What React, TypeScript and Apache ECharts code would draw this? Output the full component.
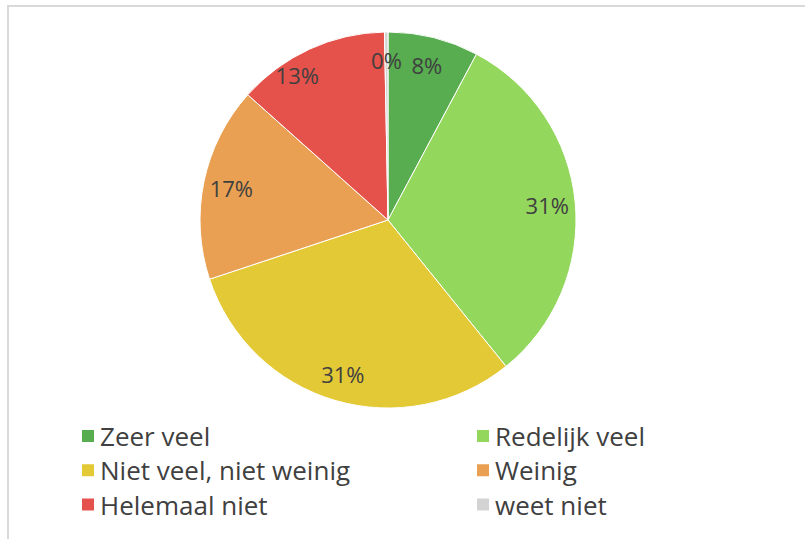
import React, { useEffect, useRef } from "react";
import * as echarts from "echarts";

const categories = [
  "Zeer veel",
  "Redelijk veel",
  "Niet veel, niet weinig",
  "Weinig",
  "Helemaal niet",
  "weet niet",
];
const values = [7.8, 31.4, 30.7, 16.7, 13.1, 0.3];
const colors = ["#57ad4f", "#93d75c", "#e4c936", "#e9a052", "#e5514b", "#d3d3d3"];
const legendLeft = ["Zeer veel", "Niet veel, niet weinig", "Helemaal niet"];
const legendRight = ["Redelijk veel", "Weinig", "weet niet"];

export default function App() {
  const ref = useRef<HTMLDivElement>(null);
  useEffect(() => {
    if (!ref.current) return;
    const chart = echarts.init(ref.current, null, { renderer: "svg" });
    const font = "'Open Sans', 'Noto Sans', sans-serif";
    const pieData = categories.map((name, i) => ({
      name,
      value: values[i],
      itemStyle: { color: colors[i] },
    }));
    const labelData = categories.map((name, i) => ({
      name,
      value: values[i],
      label: name === "Helemaal niet" ? { offset: [-24, 0] } : {},
    }));
    const legendItem = (names: string[]) =>
      names.map((n) => ({ name: n, itemStyle: { color: colors[categories.indexOf(n)] } }));
    const legendBase = {
      orient: "vertical" as const,
      top: 423,
      padding: 0,
      icon: "rect",
      itemWidth: 14,
      itemHeight: 14,
      itemGap: 8.3,
      selectedMode: false,
      textStyle: { fontFamily: font, fontSize: 26, color: "#404040", lineHeight: 26 },
    };
    chart.setOption({
      animation: false,
      backgroundColor: "#ffffff",
      graphic: [
        {
          type: "rect",
          shape: { x: 8, y: 6, width: 820, height: 560 },
          style: { fill: "none", stroke: "#d9d9d9", lineWidth: 2 },
          silent: true,
        },
      ],
      legend: [
        { ...legendBase, left: 80, data: legendItem(legendLeft) },
        { ...legendBase, left: 475, data: legendItem(legendRight) },
      ],
      series: [
        {
          type: "pie",
          center: [388, 220],
          radius: [0, 188],
          startAngle: 90,
          clockwise: true,
          avoidLabelOverlap: false,
          label: { show: false },
          labelLine: { show: false },
          itemStyle: { borderColor: "#ffffff", borderWidth: 1 },
          emphasis: { disabled: true },
          data: pieData,
        },
        {
          type: "pie",
          center: [388, 220],
          radius: [126, 188],
          startAngle: 90,
          clockwise: true,
          silent: true,
          avoidLabelOverlap: false,
          itemStyle: { color: "rgba(0,0,0,0)" },
          emphasis: { disabled: true },
          labelLine: { show: false },
          label: {
            show: true,
            position: "inside",
            fontFamily: font,
            fontSize: 22,
            color: "#404040",
            formatter: (p: any) => Math.round(p.value) + "%",
          },
          data: labelData,
        },
      ],
    });
    return () => chart.dispose();
  }, []);
  return (
    <div style={{ position: "fixed", left: 0, top: 0, width: 805, height: 539 }}>
      <div ref={ref} style={{ width: 805, height: 539 }} />
    </div>
  );
}
